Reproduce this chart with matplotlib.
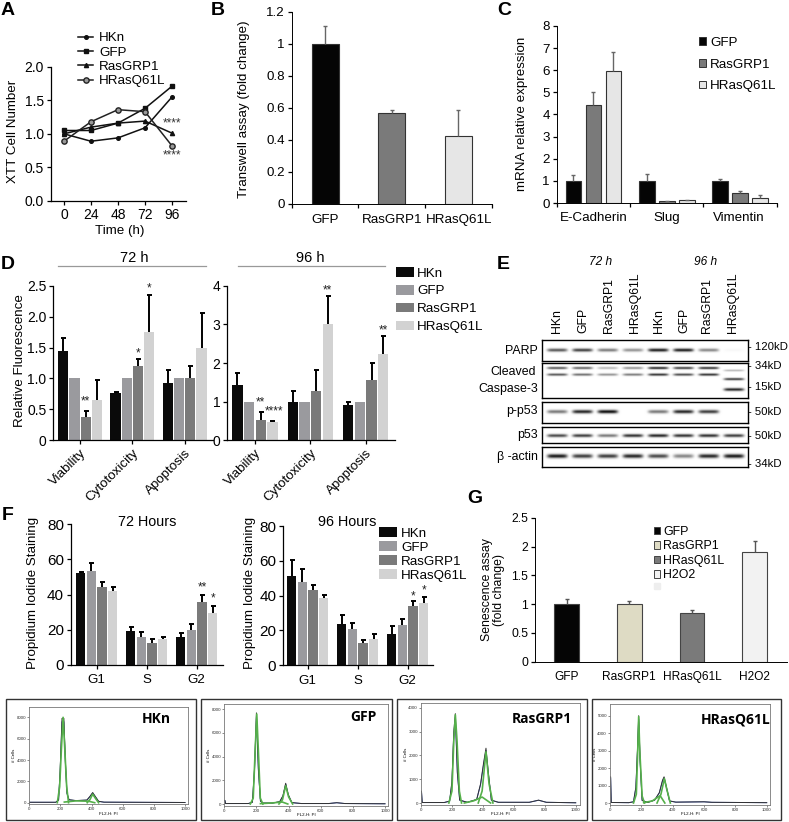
import numpy as np
import matplotlib
matplotlib.use("Agg")
import matplotlib.pyplot as plt

plt.rcParams['font.family'] = ['Liberation Sans', 'DejaVu Sans']
plt.rcParams['axes.linewidth'] = 0.9

W, H = 789, 822

# panel A
hours = [0, 24, 48, 72, 96]
a_hkn = [1.00, 0.89, 0.94, 1.09, 1.55]
a_gfp = [1.05, 1.05, 1.16, 1.38, 1.71]
a_ras = [1.00, 1.10, 1.16, 1.19, 1.01]
a_hras = [0.89, 1.18, 1.36, 1.33, 0.82]

# panel B
b_names = ['GFP', 'RasGRP1', 'HRasQ61L']
b_vals = [1.0, 0.57, 0.425]
b_errs = [0.11, 0.015, 0.16]

# panel C
c_genes = ['E-Cadherin', 'Slug', 'Vimentin']
c_gfp = [1.0, 1.0, 1.0]
c_ras = [4.42, 0.1, 0.45]
c_hras = [5.95, 0.12, 0.23]
c_gfp_err = [0.28, 0.3, 0.08]
c_ras_err = [0.58, 0.01, 0.07]
c_hras_err = [0.87, 0.03, 0.12]

# panel D
d_names = ['Viability', 'Cytotoxicity', 'Apoptosis']
d72_vals = [[1.45, 0.76, 0.92], [1.0, 1.0, 1.0], [0.38, 1.2, 1.0], [0.65, 1.75, 1.5]]
d72_errs = [[0.2, 0.02, 0.21], [0, 0, 0], [0.09, 0.12, 0.2], [0.32, 0.6, 0.56]]
d96_vals = [[1.42, 0.98, 0.92], [1.0, 1.0, 1.0], [0.52, 1.27, 1.55], [0.47, 3.0, 2.22]]
d96_errs = [[0.31, 0.29, 0.08], [0, 0, 0], [0.22, 0.56, 0.45], [0.03, 0.73, 0.48]]

# panel F
f_names = ['G1', 'S', 'G2']
f72_vals = [[52, 19, 16], [53.5, 16, 19.5], [44, 12.5, 36], [42, 14.5, 29.5]]
f72_errs = [[0.7, 2.5, 2.3], [4.5, 2.7, 3.8], [3, 2.2, 4], [2, 1, 4]]
f96_vals = [[51, 23.7, 18], [48, 21, 23], [43.5, 13, 34], [38.5, 15, 36]]
f96_errs = [[9.5, 5.3, 4.5], [7.5, 3.5, 3.5], [2.5, 1.5, 3], [2, 3, 3]]

# panel G
g_names = ['GFP', 'RasGRP1', 'HRasQ61L', 'H2O2']
g_vals = [1.0, 1.01, 0.84, 1.9]
g_errs = [0.08, 0.04, 0.06, 0.2]

# panel E, band strength per lane
lanes = ['HKn', 'GFP', 'RasGRP1', 'HRasQ61L', 'HKn', 'GFP', 'RasGRP1', 'HRasQ61L']
parp_band = [0.7, 0.8, 0.55, 0.45, 0.95, 0.95, 0.5, 0.03]
casp_band1 = [0.7, 0.65, 0.3, 0.45, 0.9, 0.8, 0.85, 0.0]
casp_band2 = [0.7, 0.6, 0.45, 0.55, 0.85, 0.75, 0.85, 0.0]
casp_band3 = [0, 0, 0, 0, 0, 0, 0, 0.3]
casp_band4 = [0, 0, 0, 0, 0, 0, 0, 0.8]
casp_band5 = [0, 0, 0, 0, 0, 0, 0, 0.9]
pp53_band = [0.55, 0.9, 1.0, 0.0, 0.55, 0.9, 0.8, 0.0]
p53_band = [0.75, 0.8, 0.55, 0.85, 0.9, 0.85, 0.85, 0.8]
actin_band = [0.95, 0.8, 0.8, 0.9, 0.75, 0.5, 0.9, 0.95]

# cell cycle histograms
hkn_x = [0, 170, 188, 198, 210, 222, 232, 242, 255, 300, 370, 390, 407, 425, 445, 480, 1000]
hkn_y = [40, 40, 250, 3000, 7900, 7900, 3800, 900, 280, 200, 250, 600, 950, 560, 130, 50, 20]
hkn_g1x = [180, 195, 206, 217, 228, 240, 252]
hkn_g1y = [0, 1500, 5000, 8000, 5000, 1500, 0]
hkn_g2x = [372, 390, 407, 425, 445]
hkn_g2y = [0, 300, 800, 400, 0]
hkn_sx = [225, 300, 380, 420]
hkn_sy = [60, 170, 140, 0]

gfp_x = [0, 4, 8, 150, 175, 188, 200, 212, 225, 240, 300, 345, 365, 382, 398, 420, 480, 650, 700, 750, 1000]
gfp_y = [300, 300, 40, 40, 150, 3000, 7700, 3000, 250, 80, 80, 200, 700, 1750, 800, 120, 40, 40, 110, 40, 20]
gfp_g1x = [162, 180, 192, 202, 212, 224, 240]
gfp_g1y = [0, 500, 4500, 7600, 4500, 500, 0]
gfp_g2x = [340, 362, 382, 400, 425]
gfp_g2y = [0, 350, 1550, 600, 0]
gfp_sx = [225, 300, 360, 395]
gfp_sy = [30, 90, 170, 0]

ras_x = [0, 3, 8, 150, 185, 200, 212, 222, 235, 250, 300, 360, 385, 405, 420, 435, 455, 500, 700, 760, 810, 1000]
ras_y = [500, 500, 20, 20, 80, 900, 3000, 3750, 1300, 120, 30, 150, 800, 1700, 2300, 1300, 120, 30, 30, 120, 30, 10]
ras_g1x = [180, 200, 212, 222, 233, 248, 262]
ras_g1y = [0, 500, 2600, 3700, 2600, 500, 0]
ras_g2x = [370, 395, 420, 440, 465]
ras_g2y = [0, 500, 2150, 800, 0]
ras_sx = [280, 340, 395, 450]
ras_sy = [0, 90, 250, 0]

hras_x = [0, 4, 8, 120, 150, 165, 175, 183, 192, 205, 240, 285, 315, 335, 345, 358, 380, 420, 600, 650, 1000]
hras_y = [1500, 1500, 30, 20, 70, 900, 3000, 5000, 2500, 150, 30, 170, 600, 1300, 1500, 1000, 120, 50, 70, 40, 20]
hras_g1x = [150, 168, 177, 183, 190, 205, 220]
hras_g1y = [0, 500, 3000, 4950, 3000, 400, 0]
hras_g2x = [300, 325, 347, 362, 385]
hras_g2y = [0, 500, 1400, 800, 0]
hras_sx = [215, 270, 320, 350]
hras_sy = [20, 120, 420, 0]

fig = plt.figure(figsize=(W / 100, H / 100), dpi=100)


def px_axes(left, top, right, bottom):
    return fig.add_axes([left / W, 1 - bottom / H, (right - left) / W, (bottom - top) / H])


def put(x, y, s, size=9.6, **kw):
    kw.setdefault('ha', 'center')
    kw.setdefault('va', 'center')
    return fig.text(x / W, 1 - y / H, s, fontsize=size, **kw)


def clean(ax, size=9.6, pad=2):
    ax.spines['top'].set_visible(False)
    ax.spines['right'].set_visible(False)
    ax.tick_params(labelsize=size, length=3, width=0.9, pad=pad)


def bars(ax, xs, vals, errs, width, color, edge='none', ecolor='black', elw=1.4, cap=1.8):
    ax.bar(xs, vals, width, color=color, edgecolor=edge, linewidth=0.8)
    shown = np.array(errs) > 0
    if not shown.any():
        return
    low = np.zeros(shown.sum())
    _, caps, _ = ax.errorbar(np.array(list(xs))[shown], np.array(vals)[shown],
                             yerr=[low, np.array(errs)[shown]], fmt='none',
                             ecolor=ecolor, elinewidth=elw, capsize=cap, capthick=elw)
    caps[0].set_visible(False)


def star(ax, x, y, s, color='#222222'):
    ax.text(x, y, s, fontsize=8.5, ha='center', va='center', color=color)


def patch_legend(ax, names, colors, x, y, size, hlen, hheight, space, edge='none', pad=0.4):
    handles = [plt.Rectangle((0, 0), 1, 1, facecolor=c, edgecolor=edge, linewidth=0.7) for c in colors]
    ax.legend(handles, names, loc='upper left', bbox_to_anchor=(x / W, 1 - y / H),
              bbox_transform=fig.transFigure, frameon=False, fontsize=size, borderpad=0,
              borderaxespad=0, handlelength=hlen, handleheight=hheight, labelspacing=space,
              handletextpad=pad)


# A
ax = px_axes(51, 66.7, 186, 201)
l1, = ax.plot(hours, a_hkn, '-o', color='#111111', lw=1.1, ms=2.6)
l2, = ax.plot(hours, a_gfp, '-s', color='#111111', lw=1.1, ms=3.2)
l3, = ax.plot(hours, a_ras, '-^', color='#111111', lw=1.1, ms=3)
l4, = ax.plot(hours, a_hras, '-o', color='#222222', mfc='#999999', lw=1.1, ms=3.8)
ax.set_xlim(-11.5, 108.4)
ax.set_ylim(0, 2)
ax.set_xticks(hours)
ax.set_yticks([0, 0.5, 1, 1.5, 2], ['0.0', '0.5', '1.0', '1.5', '2.0'])
clean(ax, 10)
star(ax, 96, 1.15, '****', '#333333')
star(ax, 96, 0.68, '****', '#333333')
ax.legend([l1, l2, l3, l4], ['HKn', 'GFP', 'RasGRP1', 'HRasQ61L'], loc='upper left',
          bbox_to_anchor=(78 / W, 1 - 32 / H), bbox_transform=fig.transFigure, frameon=False,
          fontsize=9.6, borderpad=0, borderaxespad=0, handlelength=1.15, handletextpad=0.45,
          labelspacing=0.15)
put(12.7, 131, 'XTT Cell Number', rotation=90)
put(120, 231, 'Time (h)')

# B
ax = px_axes(291.7, 11.7, 491.7, 204)
bars(ax, [0, 1, 2], b_vals, b_errs, 0.405, ['#050505', '#7a7a7a', '#e6e6e6'], edge='#333333',
     ecolor='#666666', elw=1, cap=1.5)
ax.set_xlim(-0.5, 2.5)
ax.set_ylim(0, 1.2)
ax.set_xticks([-0.5, 0.5, 1.5, 2.5], ['', '', '', ''])
ax.set_yticks([0, 0.2, 0.4, 0.6, 0.8, 1, 1.2], ['0', '0.2', '0.4', '0.6', '0.8', '1', '1.2'])
clean(ax, 9.6)
ax.spines['left'].set_linewidth(0.7)
ax.spines['bottom'].set_linewidth(0.7)
for xpos, name in zip([325, 392, 459], b_names):
    put(xpos, 220, name)
put(244, 109.5, 'Transwell assay (fold change)', rotation=90)

# C
ax = px_axes(556.7, 26, 776.7, 203)
pitch = 0.2727
c_x = np.arange(3)
bars(ax, c_x - pitch, c_gfp, c_gfp_err, 0.214, '#050505', '#333333', '#666666', 1, 1.4)
bars(ax, c_x, c_ras, c_ras_err, 0.214, '#7a7a7a', '#333333', '#666666', 1, 1.4)
bars(ax, c_x + pitch, c_hras, c_hras_err, 0.214, '#e6e6e6', '#333333', '#666666', 1, 1.4)
ax.set_xlim(-0.5, 2.5)
ax.set_ylim(0, 8)
ax.set_xticks([-0.5, 0.5, 1.5, 2.5], ['', '', '', ''])
ax.set_yticks(range(9))
clean(ax, 9.6)
ax.spines['left'].set_linewidth(0.7)
ax.spines['bottom'].set_linewidth(0.7)
for xpos, name in zip([593.3, 666.7, 739], c_genes):
    put(xpos, 218, name)
put(521.7, 113.8, 'mRNA relative expression', rotation=90)
patch_legend(ax, ['GFP', 'RasGRP1', 'HRasQ61L'], ['#050505', '#7a7a7a', '#e6e6e6'], 699, 37, 9.6,
             0.53, 0.53, 0.72, edge='#333333', pad=0.3)

# D
d_cols = ['#0a0a0a', '#9a9a9e', '#7a7a7a', '#d2d2d2']
ax1 = px_axes(53.3, 285.7, 213, 440.3)
ax2 = px_axes(227.3, 285.7, 395, 440.3)
for i in range(4):
    bars(ax1, np.arange(3) + (i - 1.5) * 0.214, d72_vals[i], d72_errs[i], 0.195, d_cols[i])
    bars(ax2, np.arange(3) + (i - 1.5) * 0.211, d96_vals[i], d96_errs[i], 0.187, d_cols[i])
ax1.set_xlim(-0.51, 2.54)
ax1.set_ylim(0, 2.5)
ax1.set_yticks([0, 0.5, 1, 1.5, 2, 2.5], ['0', '0.5', '1.0', '1.5', '2.0', '2.5'])
ax2.set_xlim(-0.5, 2.53)
ax2.set_ylim(0, 4)
ax2.set_yticks(range(5))
for a in (ax1, ax2):
    clean(a, 10)
    a.set_xticks(range(3))
    a.set_xticklabels(d_names, rotation=45, ha='right', rotation_mode='anchor', fontsize=9.6)
star(ax1, 0.107, 0.625, '**')
star(ax1, 1.107, 1.41, '*')
star(ax1, 1.321, 2.46, '*')
star(ax2, 0.105, 0.99, '**')
star(ax2, 0.35, 0.74, '****')
star(ax2, 1.316, 3.89, '**')
star(ax2, 2.316, 2.85, '**')
put(134.7, 258, '72 h', size=10.5)
put(310, 258, '96 h', size=10.5)
fig.add_artist(plt.Line2D([58 / W, 205.7 / W], [1 - 265.7 / H] * 2, color='#999999', lw=0.9))
fig.add_artist(plt.Line2D([237.7 / W, 385 / W], [1 - 265.7 / H] * 2, color='#999999', lw=0.9))
put(20, 360.7, 'Relative Fluorescence', rotation=90)
patch_legend(ax2, ['HKn', 'GFP', 'RasGRP1', 'HRasQ61L'], d_cols, 395.7, 267, 9.6, 1.4, 0.75, 0.4, pad=0.22)

# E
blots = [
    (340, 360.7, [(0.48, 1.6, parp_band)]),
    (363.3, 398.3, [(0.14, 1.2, casp_band1), (0.33, 1.2, casp_band2), (0.21, 1.0, casp_band3),
                    (0.46, 1.2, casp_band4), (0.76, 1.5, casp_band5)]),
    (401.7, 422.7, [(0.46, 1.8, pp53_band)]),
    (426.7, 442.7, [(0.54, 1.6, p53_band)]),
    (446.7, 467.3, [(0.48, 2.0, actin_band)]),
]
for top, bottom, rows in blots:
    ax = px_axes(542.3, top, 747.7, bottom)
    nx, ny = 620, int((bottom - top) * 3)
    gx = np.linspace(-0.6, 7.55, nx)
    gy = np.linspace(0, 1, ny)
    ink = np.zeros((ny, nx))
    for frac, thick, levels in rows:
        sigma = thick / (bottom - top)
        for k, lev in enumerate(levels):
            across = np.exp(-((gx - k) / 0.40) ** 6)
            ink += lev * np.outer(np.exp(-((gy - frac) / sigma) ** 2), across)
    ax.imshow(1 - np.clip(ink, 0, 1) * 0.95, cmap='gray', vmin=0, vmax=1, aspect='auto',
              extent=(-0.6, 7.55, 1, 0), interpolation='bilinear')
    ax.set_xticks([])
    ax.set_yticks([])
    for s in ax.spines.values():
        s.set_linewidth(1)

for xpos, name in zip([557.3, 583.3, 609, 635, 659, 684, 707, 733], lanes):
    put(xpos, 333, name, size=8.8, rotation=90, va='bottom')
put(601, 261.7, '72 h', size=8.6, style='italic')
put(705.7, 261.7, '96 h', size=8.6, style='italic')
put(538, 350.7, 'PARP', size=8.9, ha='right')
put(513, 371.7, 'Cleaved', size=8.9)
put(538, 389, 'Caspase-3', size=8.9, ha='right')
put(538, 410.7, 'p-p53', size=8.9, ha='right')
put(538, 435, 'p53', size=8.9, ha='right')
put(538, 456.7, 'β -actin', size=8.9, ha='right')
for ypos, mark in zip([346.7, 365.7, 387.3, 412.3, 435.7, 464.3],
                      ['120kD', '34kD', '15kD', '50kD', '50kD', '34kD']):
    put(748.3, ypos, '- ' + mark, size=8.2, ha='left')

# F
ax1 = px_axes(71, 524.3, 223, 664.7)
ax2 = px_axes(283.3, 526, 433.3, 665.3)
for i in range(4):
    bars(ax1, np.arange(3) + (i - 1.5) * 0.214, f72_vals[i], f72_errs[i], 0.187, d_cols[i])
    bars(ax2, np.arange(3) + (i - 1.5) * 0.213, f96_vals[i], f96_errs[i], 0.187, d_cols[i])
ax1.set_xlim(-0.514, 2.526)
ax2.set_xlim(-0.488, 2.512)
for a in (ax1, ax2):
    a.set_ylim(0, 80)
    a.set_yticks([0, 20, 40, 60, 80])
    clean(a, 11)
    a.set_xticks(range(3), f_names, fontsize=9.6)
    a.tick_params(axis='x', pad=4)
star(ax1, 2.107, 44, '**')
star(ax1, 2.321, 37.7, '*')
star(ax2, 2.107, 39.7, '*')
star(ax2, 2.32, 43.1, '*')
put(146.7, 522, '72 Hours', size=10.4)
put(346.7, 522, '96 Hours', size=10.4)
put(33, 593, 'Propidium Iodide Staining', rotation=90)
put(250, 593, 'Propidium Iodide Staining', rotation=90)
patch_legend(ax2, ['HKn', 'GFP', 'RasGRP1', 'HRasQ61L'], d_cols, 379, 527, 9.6, 1.35, 0.75, 0.12, pad=0.3)

# G
g_cols = ['#050505', '#dedbc4', '#7a7a7a', '#f2f2f2']
ax = px_axes(535, 517.7, 786.7, 661.7)
bars(ax, range(4), g_vals, g_errs, 0.398, g_cols, edge='#444444', ecolor='#555555', elw=1, cap=1.5)
ax.set_xlim(-0.504, 3.51)
ax.set_ylim(0, 2.5)
ax.set_xticks([])
ax.set_yticks([0, 0.5, 1, 1.5, 2, 2.5], ['0', '0.5', '1', '1.5', '2', '2.5'])
clean(ax, 8.8)
ax.spines['left'].set_linewidth(0.7)
ax.spines['bottom'].set_linewidth(0.7)
for xpos, name in zip([566.7, 629.3, 692, 754.7], g_names):
    put(xpos, 676.7, name, size=8.6)
put(493, 590, 'Senescence assay\n(fold change)', size=8.8, rotation=90, linespacing=0.95)
patch_legend(ax, g_names, g_cols, 653.5, 526, 8.9, 0.53, 0.53, 0.2, edge='#444444', pad=0.25)
fig.add_artist(plt.Rectangle((653.5 / W, 1 - 589 / H), 6.5 / W, 6.5 / H, color='#eeeeee',
                             transform=fig.transFigure))

# flow panels
flow = [
    ('HKn', (5.7, 195.7), (29.3, 187.7, 185), (706.7, 717.3, 802.7), 8000, 2000, (156.7, 719),
     hkn_x, hkn_y, hkn_g1x, hkn_g1y, hkn_g2x, hkn_g2y, hkn_sx, hkn_sy),
    ('GFP', (201.3, 391.7), (224.3, 388, 385), (704.3, 709.3, 804), 8000, 2000, (363, 716.7),
     gfp_x, gfp_y, gfp_g1x, gfp_g1y, gfp_g2x, gfp_g2y, gfp_sx, gfp_sy),
    ('RasGRP1', (396.7, 587.3), (421, 580, 575.7), (703.3, 707.7, 803), 4000, 1000, (542.3, 719),
     ras_x, ras_y, ras_g1x, ras_g1y, ras_g2x, ras_g2y, ras_sx, ras_sy),
    ('HRasQ61L', (592.3, 781), (610, 770, 766.7), (704.3, 715.7, 803), 5000, 1000, (735.7, 719),
     hras_x, hras_y, hras_g1x, hras_g1y, hras_g2x, hras_g2y, hras_sx, hras_sy),
]
for name, frame, xs, ys, ymax, ystep, tag, tx, ty, g1x, g1y, g2x, g2y, sx, sy in flow:
    fig.add_artist(plt.Rectangle((frame[0] / W, 1 - 820 / H), (frame[1] - frame[0]) / W, 120.7 / H,
                                 fill=False, edgecolor='#333333', lw=1, transform=fig.transFigure))
    ax = px_axes(xs[0], ys[0], xs[1], ys[2] + 1.5)
    per_px = ymax / (ys[2] - ys[1])
    ax.set_xlim(0, 1000 * (xs[1] - xs[0]) / (xs[2] - xs[0]))
    ax.set_ylim(-1.5 * per_px, (ys[2] - ys[0]) * per_px)
    ax.plot(tx, np.array(ty) * 0.96, color='#3a53b5', lw=0.7)
    ax.plot(tx, ty, color='#333333', lw=0.7)
    for px, py in ((g1x, g1y), (g2x, g2y), (sx, sy)):
        ax.plot(px, py, color='#55b04a', lw=1.2)
    ax.set_xticks(range(0, 1001, 200))
    ax.set_yticks(range(0, ymax + 1, ystep))
    ax.tick_params(labelsize=3.2, length=1.2, width=0.4, pad=1, colors='#333333')
    ax.set_xlabel('FL2-H: PI', fontsize=3.2, labelpad=0.5)
    ax.set_ylabel('# Cells', fontsize=3.2, labelpad=0.5)
    for s in ax.spines.values():
        s.set_linewidth(0.6)
        s.set_color('#777777')
    put(tag[0], tag[1], name, size=10, family='Open Sans', weight='bold')

# panel letters
for xpos, ypos, letter in [(8, 10.5, 'A'), (218, 10.5, 'B'), (504, 10.5, 'C'), (8, 264, 'D'),
                           (503, 264, 'E'), (8, 515, 'F'), (475, 498, 'G')]:
    put(xpos, ypos, letter, size=14, weight='bold')

fig.savefig('out.png', dpi=100)
